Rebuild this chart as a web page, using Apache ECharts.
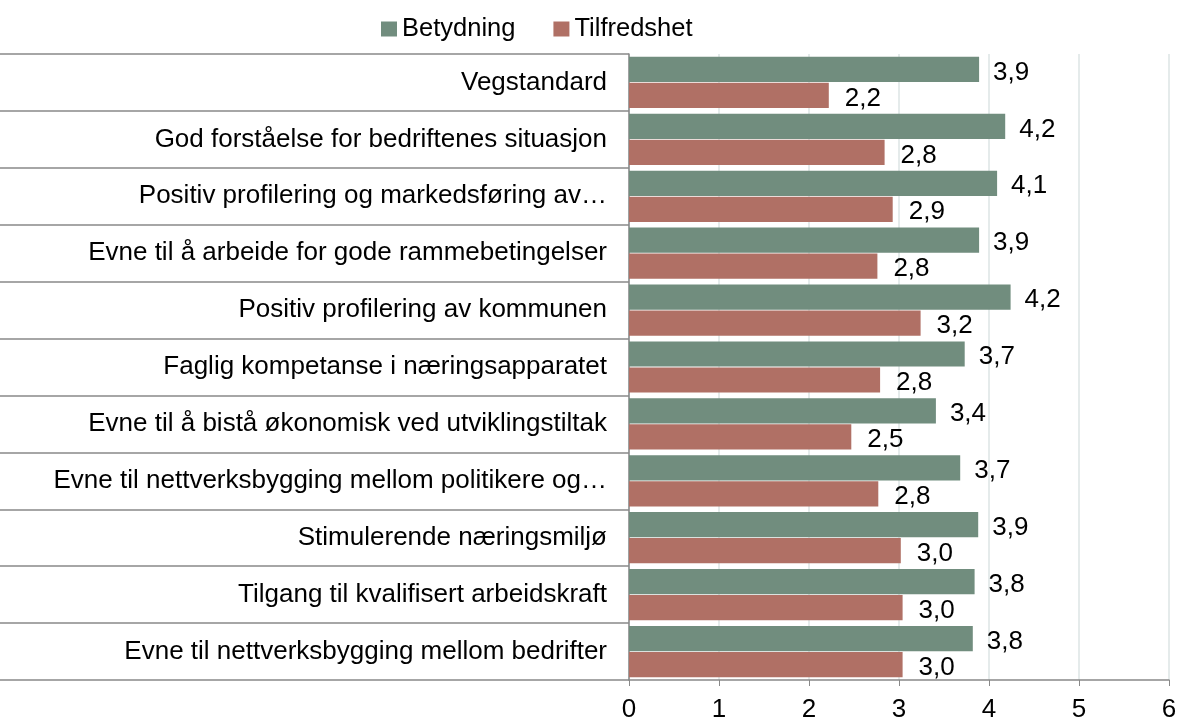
<!DOCTYPE html>
<html>
<head>
<meta charset="utf-8">
<script src="https://cdn.jsdelivr.net/npm/echarts@6/dist/echarts.min.js"></script>
<style>
  html, body { margin: 0; padding: 0; background: #fff; }
  #main { width: 1179px; height: 722px; }
</style>
</head>
<body>
<div id="main"></div>
<script>
// kategorier (ovenfra og ned)
var categories = [
  'Vegstandard',
  'God forståelse for bedriftenes situasjon',
  'Positiv profilering og markedsføring av…',
  'Evne til å arbeide for gode rammebetingelser',
  'Positiv profilering av kommunen',
  'Faglig kompetanse i næringsapparatet',
  'Evne til å bistå økonomisk ved utviklingstiltak',
  'Evne til nettverksbygging mellom politikere og…',
  'Stimulerende næringsmiljø',
  'Tilgang til kvalifisert arbeidskraft',
  'Evne til nettverksbygging mellom bedrifter'
];
var betydning = [3.89, 4.18, 4.09, 3.89, 4.24, 3.73, 3.41, 3.68, 3.88, 3.84, 3.82];
var tilfredshet = [2.22, 2.84, 2.93, 2.76, 3.24, 2.79, 2.47, 2.77, 3.02, 3.04, 3.04];
var xTicks = [0, 1, 2, 3, 4, 5, 6];

var font = "'Liberation Sans', Arial, sans-serif";
var fmt = function(p) { return p.value.toFixed(1).replace('.', ','); };

var myChart = echarts.init(document.getElementById('main'));
var option = {
  animation: false,
  textStyle: { fontFamily: font },
  legend: {
    data: ['Betydning', 'Tilfredshet'],
    left: 376,
    top: 11,
    icon: 'rect',
    itemWidth: 16,
    itemHeight: 15,
    itemGap: 38,
    itemTextGap: 5,
    textStyle: { fontSize: 25.5, color: '#000', fontFamily: font }
  },
  grid: { left: 629, right: 10, top: 54, bottom: 42, containLabel: false, outerBoundsMode: 'none' },
  xAxis: {
    type: 'value',
    min: xTicks[0],
    max: xTicks[xTicks.length - 1],
    interval: 1,
    axisLine: { show: true, lineStyle: { color: '#898989', width: 1.5 } },
    axisTick: { show: true, length: 6, lineStyle: { color: '#898989' } },
    axisLabel: { fontSize: 26, color: '#000', margin: 17, fontFamily: font },
    splitLine: { show: true, lineStyle: { color: '#dde4e4', width: 1.5 } }
  },
  yAxis: {
    type: 'category',
    inverse: true,
    data: categories,
    axisLine: { show: true, lineStyle: { color: '#898989', width: 1.5 } },
    axisTick: { show: true, length: 629, lineStyle: { color: '#898989', width: 1.5 } },
    axisLabel: { fontSize: 26, color: '#000', margin: 22, fontFamily: font }
  },
  series: [{
    name: 'Betydning',
    type: 'bar',
    data: betydning,
    barGap: '3%',
    barCategoryGap: '10%',
    itemStyle: { color: '#718d7e' },
    label: { show: true, position: 'right', distance: 14, offset: [0, 3], fontSize: 26, color: '#000', formatter: fmt, fontFamily: font }
  }, {
    name: 'Tilfredshet',
    type: 'bar',
    data: tilfredshet,
    itemStyle: { color: '#b07065' },
    label: { show: true, position: 'right', distance: 16, offset: [0, 3], fontSize: 26, color: '#000', formatter: fmt, fontFamily: font }
  }]
};
myChart.setOption(option);
</script>
</body>
</html>
